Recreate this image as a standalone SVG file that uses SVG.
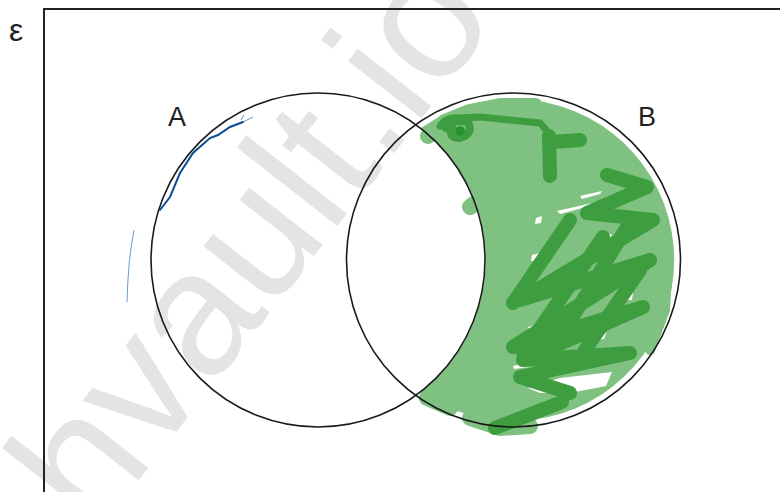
<svg xmlns="http://www.w3.org/2000/svg" width="780" height="492" viewBox="0 0 780 492">
<style>
.lbl{font-family:"Liberation Sans",Arial,sans-serif;fill:#222;}
.set{fill:none;stroke:#1a1a1a;stroke-width:1.6;}
.lg{fill:none;stroke:#7fc180;stroke-linecap:round;stroke-linejoin:round;}
.dg{fill:none;stroke:#3d9d3f;stroke-linecap:round;stroke-linejoin:round;stroke-width:14;}
.gap{fill:#ffffff;}
</style>
<rect width="780" height="492" fill="#ffffff"/>
<g id="watermark">
<text x="0" y="0" transform="translate(95 536) rotate(-52)" font-family="Liberation Sans, Arial, sans-serif" font-size="176" fill="#e4e4e4">hvault.io</text>
</g>
<g id="universe">
<path d="M44 492 V9 H780" fill="none" stroke="#222" stroke-width="2"/>
<text class="lbl" x="9" y="41" font-size="32">ε</text>
</g>
<g id="shading">
<path d="M421 128 A161 161 0 1 1 421 392 A167 167 0 0 0 421 128 Z" fill="#7fc180"/>
<path class="lg" stroke-width="16" d="M428 136 L445 122 L470 112 L500 106 L535 106 M427 398 L450 408 M470 418 L500 428 L530 426 M470 207 L490 192"/>
<path class="lg" stroke-width="10" d="M655 215 L668 260 L665 310 L650 350"/>
<g class="gap">
<polygon points="557,211 592,203 590,206 560,214"/>
<polygon points="580,196 602,191 600,194 582,199"/>
<polygon points="532,255 540,253 538,260 531,261"/>
<polygon points="578,258 604,252 600,257 580,261"/>
<polygon points="560,285 585,279 583,284 562,288"/>
<polygon points="620,290 634,286 632,300 621,300"/>
<polygon points="528,327 548,322 546,328 530,331"/>
<polygon points="590,337 606,333 604,339 592,341"/>
<polygon points="513,366 530,362 529,367 514,369"/>
<polygon points="528,388 560,378 612,372 606,386 575,392 540,393"/>
<polygon points="536,218 542,216 541,223 535,224"/>
<polygon points="595,238 612,234 610,238 597,241"/>
</g>
<path d="M440 126 Q446 116 460 118 L480 117 L510 120 L540 123 L548 132" fill="none" stroke="#3d9d3f" stroke-width="7" stroke-linecap="round" stroke-linejoin="round"/>
<path d="M446 128 Q452 118 468 122 Q474 134 460 138 Q448 138 452 128" fill="none" stroke="#3d9d3f" stroke-width="8" stroke-linecap="round" stroke-linejoin="round"/>
<circle cx="460" cy="131" r="5" fill="#2a9230"/>
<path class="dg" stroke-width="16" d="M580 140 L552 142 M549 136 L550 176"/>
<path class="dg" d="M607 175 L647 187 L587 213 L653 220 L520 300 L650 260 L513 347 L643 307 L523 360 L630 353 L520 377 L570 393"/>
<path class="dg" d="M570 220 L513 303 M603 237 L523 353 M627 227 L563 333 M640 270 L585 350"/>
<path class="dg" d="M495 428 L562 402"/>
</g>
<g id="setA">
<circle class="set" cx="318" cy="260" r="167"/>
<text class="lbl" x="168" y="126" font-size="27">A</text>
</g>
<g id="setB">
<circle class="set" cx="513.5" cy="260" r="167"/>
<text class="lbl" x="638" y="126" font-size="27">B</text>
</g>
<g id="pen">
<path d="M160 210 L170 197 L180 173 L193 153 L210 138 L218 135 L230 127 L243 122" fill="none" stroke="#0b4d93" stroke-width="2" stroke-linecap="round"/>
<path d="M243 122 L253 117 M241 120 L244 115" fill="none" stroke="#3b74b5" stroke-width="0.8"/>
<path d="M134 230 Q128 260 127 302" fill="none" stroke="#5b8fc7" stroke-width="0.9"/>
</g>
</svg>
